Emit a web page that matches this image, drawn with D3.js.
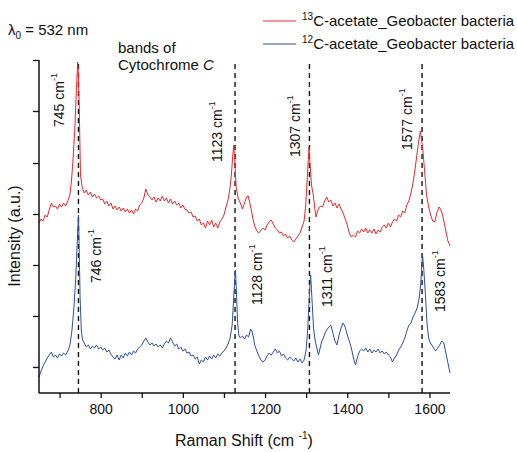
<!DOCTYPE html>
<html><head><meta charset="utf-8">
<script src="https://cdn.jsdelivr.net/npm/d3@7"></script>
<style>
body{margin:0;background:#fff;}
svg{display:block;font-family:"Liberation Sans",Arial,sans-serif;}
</style></head>
<body>
<svg id="chart" width="517" height="452"></svg>
<script>
// ---------- data ----------
const seriesNames = ["C-acetate_Geobacter bacteria", "C-acetate_Geobacter bacteria"];
const seriesIsotopes = ["13", "12"];
const xTickValues = [700, 800, 900, 1000, 1100, 1200, 1300, 1400, 1500, 1600];
const xTickLabels = [800, 1000, 1200, 1400, 1600];
const yTickValues = [26, 77, 128, 179, 230, 282, 333];
const bandLines = [746, 1127, 1308, 1582];

// 13C spectrum: [Raman shift (cm-1), intensity (a.u.)]
const red13C = [
[650,170],[655,174],[660,172],[665,178],[670,176],[675,183],[680,190],[685,186],[690,187],[695,184],
[700,189],[705,186],[710,190],[715,187],[720,192],[725,198],[729,212],[733,235],[737,263],[741,303],
[744,331],[746,318],[748,283],[751,218],[755,206],[760,200],[765,203],[770,198],[775,201],[780,196],
[785,199],[790,195],[795,197],[800,193],[805,194],[810,189],[815,192],[820,187],[825,190],[830,184],
[835,187],[840,183],[845,186],[850,182],[855,185],[860,181],[865,184],[870,180],[875,183],[880,179],
[885,184],[890,182],[895,188],[900,190],[905,195],[910,204],[915,198],[920,196],[925,193],[930,196],
[935,191],[940,195],[945,192],[950,197],[955,192],[960,195],[965,190],[970,194],[975,189],[980,192],
[985,188],[990,190],[995,185],[1000,188],[1005,184],[1010,183],[1015,180],[1020,181],[1025,176],[1030,177],
[1035,172],[1040,174],[1045,168],[1050,170],[1055,165],[1060,172],[1065,168],[1070,173],[1075,166],[1080,170],
[1085,165],[1090,171],[1095,174],[1100,178],[1105,186],[1110,193],[1115,206],[1118,218],[1121,235],[1124,248],
[1127,225],[1130,205],[1135,194],[1140,190],[1145,184],[1150,190],[1155,196],[1159,197],[1163,190],[1167,182],
[1171,173],[1175,167],[1180,162],[1185,160],[1190,163],[1195,165],[1200,163],[1205,168],[1210,171],[1215,173],
[1220,169],[1225,165],[1230,163],[1235,160],[1240,161],[1245,157],[1250,159],[1255,155],[1260,157],[1265,153],
[1270,151],[1275,154],[1280,157],[1285,160],[1290,166],[1295,172],[1299,188],[1302,210],[1305,232],[1307,246],
[1310,226],[1313,208],[1317,199],[1321,185],[1324,176],[1328,182],[1332,186],[1336,187],[1340,186],[1345,192],
[1350,196],[1355,191],[1360,193],[1365,187],[1370,190],[1375,185],[1380,189],[1385,184],[1390,180],[1395,174],
[1400,168],[1405,160],[1410,156],[1415,158],[1420,156],[1425,162],[1430,160],[1435,164],[1440,161],[1445,165],
[1450,160],[1455,163],[1460,160],[1465,164],[1470,159],[1475,163],[1480,161],[1485,166],[1490,168],[1495,165],
[1500,170],[1505,166],[1510,171],[1515,174],[1520,172],[1525,178],[1530,176],[1535,182],[1540,180],[1545,188],
[1550,192],[1555,200],[1560,210],[1565,224],[1570,240],[1574,252],[1578,262],[1581,252],[1584,243],[1588,223],
[1593,198],[1598,186],[1603,178],[1608,172],[1613,171],[1618,180],[1623,186],[1627,184],[1632,178],[1636,170],
[1640,162],[1645,152],[1650,147]
];

// 12C spectrum
const blue12C = [
[650,16],[655,22],[660,27],[665,31],[670,35],[675,38],[680,41],[685,36],[690,38],[695,35],
[700,39],[705,37],[710,40],[715,38],[720,42],[725,47],[730,62],[735,85],[740,120],[743,150],
[746,178],[748,140],[750,95],[753,62],[756,53],[760,50],[765,46],[770,48],[775,44],[780,47],
[785,45],[790,48],[795,44],[800,46],[805,43],[810,45],[815,41],[820,43],[825,39],[830,36],
[835,34],[840,38],[845,33],[850,38],[855,35],[860,40],[865,37],[870,41],[875,38],[880,42],
[885,40],[890,44],[895,46],[900,48],[905,52],[910,55],[915,51],[920,48],[925,50],[930,47],
[935,49],[940,46],[945,48],[950,45],[955,49],[960,52],[965,50],[970,55],[975,51],[980,47],
[985,49],[990,44],[995,46],[1000,42],[1005,44],[1010,40],[1015,41],[1020,37],[1025,38],[1030,34],
[1035,36],[1040,29],[1045,33],[1050,31],[1055,36],[1060,33],[1065,37],[1070,34],[1075,38],[1080,35],
[1085,39],[1090,37],[1095,40],[1100,42],[1105,45],[1110,49],[1115,55],[1120,68],[1123,90],[1126,112],
[1128,123],[1130,105],[1133,72],[1136,58],[1140,55],[1145,57],[1150,54],[1155,58],[1160,56],[1165,64],
[1168,62],[1172,55],[1175,48],[1180,42],[1185,37],[1190,33],[1195,31],[1200,33],[1205,37],[1210,40],
[1215,38],[1220,41],[1225,44],[1230,40],[1235,42],[1240,37],[1245,39],[1250,35],[1255,33],[1260,36],
[1265,34],[1270,32],[1275,35],[1280,31],[1285,34],[1290,30],[1295,33],[1300,43],[1304,65],[1308,100],
[1311,118],[1314,95],[1318,65],[1322,52],[1326,45],[1330,38],[1334,45],[1338,52],[1342,55],[1346,60],
[1350,63],[1355,66],[1360,68],[1365,60],[1370,52],[1375,48],[1380,58],[1385,65],[1390,70],[1395,66],
[1400,58],[1405,52],[1410,45],[1415,35],[1420,28],[1425,36],[1430,42],[1435,44],[1440,42],[1445,45],
[1450,41],[1455,44],[1460,40],[1465,43],[1470,41],[1475,44],[1480,40],[1485,42],[1490,39],[1495,41],
[1500,38],[1505,36],[1510,31],[1515,35],[1520,38],[1525,43],[1530,46],[1535,50],[1540,55],[1545,62],
[1550,68],[1555,70],[1560,76],[1565,80],[1570,85],[1575,95],[1579,110],[1583,139],[1586,125],[1590,100],
[1594,70],[1598,55],[1602,50],[1606,48],[1610,45],[1615,42],[1620,45],[1625,48],[1630,52],[1635,50],
[1640,40],[1645,30],[1650,20]
];

// peak annotations: [label value, anchor shift, anchor intensity]
const peakLabels = [
[745, 711, 266], [746, 801, 110],
[1123, 1095, 231], [1128, 1193, 88],
[1307, 1285, 236], [1311, 1363, 86],
[1577, 1557, 243], [1583, 1638, 81]
];

// ---------- drawing ----------
const svg = d3.select("#chart");
const x = d3.scaleLinear().domain([650, 1650]).range([39, 450]);
const y = d3.scaleLinear().domain([0, 333]).range([393, 60]);
const colors = ["#e8282c", "#2f4fa0"];
const FONT = '"Liberation Sans",Arial,sans-serif';

// dashed band lines
svg.append("g").selectAll("line").data(bandLines).join("line")
  .attr("x1", d => x(d)).attr("x2", d => x(d))
  .attr("y1", y(0)).attr("y2", y(333))
  .attr("stroke", "#111").attr("stroke-width", 1.4)
  .attr("stroke-dasharray", "5,4");

const line = d3.line().x(d => x(d[0])).y(d => y(d[1]));
svg.append("path").datum(red13C).attr("d", line)
  .attr("fill", "none").attr("stroke", colors[0]).attr("stroke-width", 1);
svg.append("path").datum(blue12C).attr("d", line)
  .attr("fill", "none").attr("stroke", colors[1]).attr("stroke-width", 1);

// axes
const xAxis = d3.axisBottom(x).tickValues(xTickValues).tickSize(5).tickSizeOuter(0).tickPadding(6)
  .tickFormat(d => xTickLabels.includes(d) ? d : "");
const gx = svg.append("g").attr("transform", `translate(0,${y(0) - 0})`).call(xAxis);
gx.attr("transform", "translate(0,393)");
const yAxis = d3.axisLeft(y).tickValues(yTickValues).tickSize(6).tickSizeOuter(0).tickFormat("");
const gy = svg.append("g").attr("transform", "translate(39,0)").call(yAxis);
// extend y axis domain to the top of range
gy.select(".domain").attr("d", `M0,${y(333)}V${y(0)}`);
gx.select(".domain").attr("d", `M${x(650)},0H${x(1650)}`);
[gx, gy].forEach(g => {
  g.select(".domain").attr("stroke", "#111").attr("stroke-width", 1.5);
  g.selectAll(".tick line").attr("stroke", "#111").attr("stroke-width", 1.3);
  g.selectAll(".tick text").attr("font-size", 14).attr("font-family", FONT).attr("fill", "#111");
});

// axis titles
const xt = svg.append("text").attr("x", 175).attr("y", 446)
  .attr("font-size", 16).attr("font-family", FONT).attr("fill", "#111");
xt.append("tspan").text("Raman Shift (cm ");
xt.append("tspan").text("-1").attr("font-size", 10).attr("dy", -7);
xt.append("tspan").text(")").attr("dy", 7);

svg.append("text").attr("transform", "translate(20,236) rotate(-90)")
  .attr("text-anchor", "middle").attr("font-size", 16).attr("font-family", FONT).attr("fill", "#111")
  .text("Intensity (a.u.)");

// peak labels
peakLabels.forEach(p => {
  const t = svg.append("text")
    .attr("transform", `translate(${x(p[1])},${y(p[2])}) rotate(-90)`)
    .attr("font-size", 14).attr("font-family", FONT).attr("fill", "#111");
  t.append("tspan").text(p[0] + " cm");
  t.append("tspan").text("-1").attr("font-size", 9).attr("dy", -7);
});

// excitation wavelength
const lam = svg.append("text").attr("x", 8).attr("y", 35)
  .attr("font-size", 15).attr("font-family", FONT).attr("fill", "#111");
lam.append("tspan").text("λ");
lam.append("tspan").text("0").attr("font-size", 10).attr("dy", 4);
lam.append("tspan").text(" = 532 nm").attr("dy", -4);

// band caption
const cap = svg.append("text").attr("font-size", 15).attr("font-family", FONT).attr("fill", "#111");
cap.append("tspan").attr("x", 118).attr("y", 53).text("bands of");
cap.append("tspan").attr("x", 118).attr("y", 70).text("Cytochrome ");
cap.append("tspan").attr("font-style", "italic").text("C");

// legend
const legY = [21, 44];
seriesNames.forEach((name, i) => {
  svg.append("line").attr("x1", 263).attr("x2", 296).attr("y1", legY[i]).attr("y2", legY[i])
    .attr("stroke", colors[i]).attr("stroke-width", 1);
  const t = svg.append("text").attr("x", 302).attr("y", legY[i] + 5)
    .attr("font-size", 15).attr("font-family", FONT).attr("fill", "#111");
  t.append("tspan").text(seriesIsotopes[i]).attr("font-size", 10).attr("dy", -6);
  t.append("tspan").text(name).attr("dy", 6);
});
</script>
</body></html>
